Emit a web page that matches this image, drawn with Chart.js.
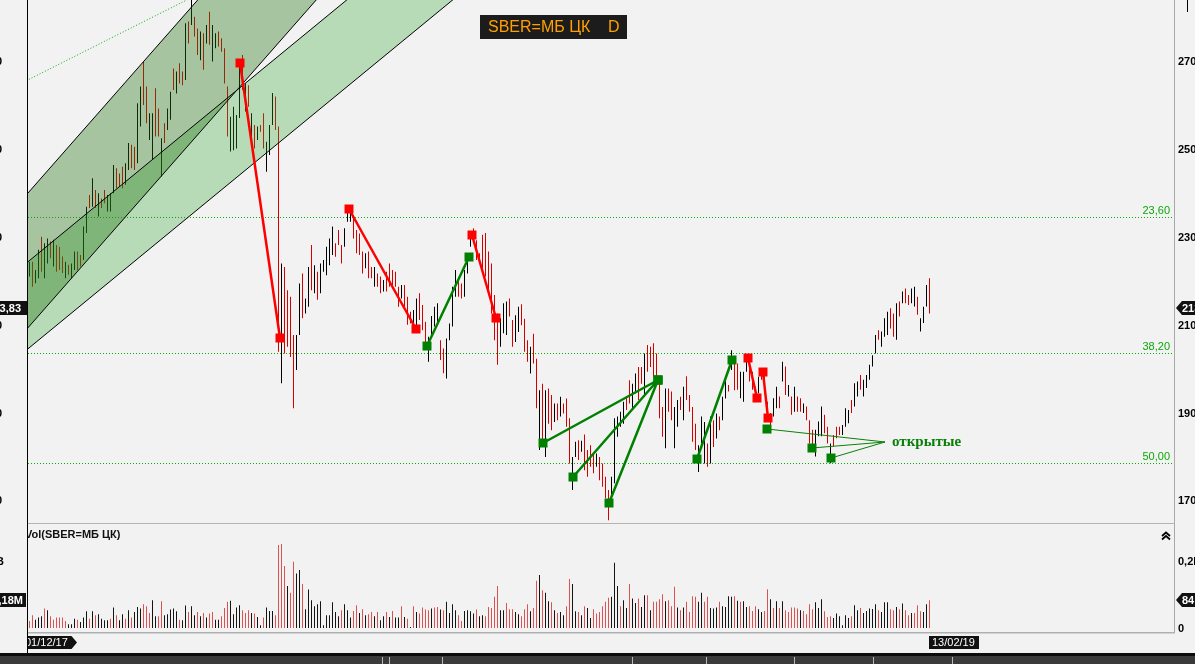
<!DOCTYPE html>
<html><head><meta charset="utf-8">
<script src="https://cdn.jsdelivr.net/npm/chart.js@4.4.1/dist/chart.umd.min.js"></script>
<style>
html,body{margin:0;padding:0;background:#f2f2f2;overflow:hidden;}
#wrap{position:relative;width:1195px;height:664px;background:#f2f2f2;}
#cp{position:absolute;left:0;top:0;width:1195px;height:524px;}
#cv{position:absolute;left:0;top:524px;width:1195px;height:140px;}
</style></head><body>
<div id="wrap"><canvas id="cp" width="1195" height="524"></canvas><canvas id="cv" width="1195" height="140"></canvas></div>
<script>
// ---------- DATA ----------
const high = [
224.5,224.5,222.6,227.2,230.2,228.7,229.8,229.1,229.5,228.3,
227.9,225.7,224.5,223.8,224.1,226.8,226.8,226.0,232.5,237.0,
239.7,243.5,240.8,240.1,238.9,240.8,239.7,240.1,246.5,245.8,
244.6,246.1,246.9,251.5,251.1,250.7,260.6,264.4,270.1,264.4,
258.3,258.3,264.0,259.4,252.6,256.0,259.4,263.2,268.5,267.8,
269.7,267.8,278.8,279.2,286.0,280.3,277.6,276.9,276.5,278.4,
281.4,278.4,276.5,276.9,275.4,273.1,264.4,257.5,259.8,257.9,
269.3,271.6,265.1,264.7,258.3,255.6,255.3,255.6,258.3,251.8,
255.6,262.9,262.1,255.3,
224.1,223.3,218.0,216.5,207.8,207.8,
219.5,221.8,216.1,223.3,228.3,223.7,222.2,224.1,224.9,227.9,
229.8,232.5,228.7,231.7,228.3,232.1,237.0,237.4,235.1,231.7,
230.9,226.8,226.4,226.8,223.3,223.3,221.8,221.1,220.3,222.2,
224.1,222.6,222.2,218.8,219.2,219.2,216.5,213.1,213.5,216.1,
217.3,214.6,210.8,207.4,212.1,214.2,215.0,206.6,204.7,207.0,
210.4,218.8,222.6,220.3,219.5,222.6,226.4,231.3,232.1,229.4,
226.4,230.6,231.0,226.8,224.1,216.9,212.7,211.6,215.0,215.4,
216.1,211.2,212.3,214.2,214.8,211.5,206.6,205.1,208.1,202.4,
195.2,196.7,195.2,195.6,194.1,192.2,192.2,193.7,192.2,193.3,
188.8,180.0,183.5,183.8,183.7,185.1,181.6,182.7,180.8,180.8,
180.0,178.5,175.5,172.5,175.5,188.8,189.2,190.3,192.6,193.7,
197.5,196.7,199.0,200.5,200.5,203.6,205.5,205.1,205.9,203.6,
196.7,191.4,195.6,195.6,194.9,191.4,193.0,193.7,196.0,198.4,
194.1,191.4,187.6,182.7,189.2,188.0,183.1,189.2,188.4,189.9,
189.2,193.7,197.5,196.4,204.3,201.7,201.3,199.4,199.4,202.5,
202.1,199.4,196.0,198.3,200.2,198.7,192.6,190.0,193.4,196.0,
193.8,201.7,200.6,196.4,193.8,196.0,193.8,193.4,192.2,191.5,
188.4,186.2,186.2,188.1,191.5,189.6,186.9,183.1,185.0,186.9,
186.9,187.3,191.1,190.7,193.0,196.8,197.2,198.7,197.6,198.7,
201.0,203.2,207.8,208.9,208.6,211.6,213.1,213.9,212.7,215.0,
215.4,217.7,218.4,216.9,218.4,218.8,216.5,211.6,214.2,219.2,220.7];
const low = [
221.1,218.8,219.6,220.7,222.2,220.7,224.1,225.3,223.4,222.2,
222.6,221.9,220.7,221.5,220.7,222.6,222.6,223.4,224.9,231.0,
236.7,237.0,236.7,234.8,236.7,237.8,235.9,235.9,240.1,241.2,
241.6,241.2,242.0,245.4,245.8,245.4,246.9,255.3,260.2,256.0,
252.2,247.7,253.0,253.0,243.9,251.5,254.5,256.8,263.6,262.8,
265.1,264.7,265.9,274.2,278.4,275.8,271.6,270.4,268.2,274.2,
273.9,270.1,273.1,273.5,272.3,265.1,253.0,249.6,249.9,250.3,
257.2,263.6,258.7,259.8,250.7,250.3,252.2,254.1,250.3,245.0,
248.8,255.6,254.5,204.0,
196.8,203.6,205.1,202.8,191.1,199.8,
207.8,211.6,212.7,214.2,218.0,217.3,215.8,217.3,222.2,221.4,
223.7,226.0,225.6,228.3,224.1,227.9,233.6,233.6,229.8,226.4,
226.0,221.8,223.0,220.7,220.7,218.8,218.8,217.3,217.7,217.7,
218.8,219.2,218.8,214.2,216.1,214.2,210.1,210.4,209.7,209.3,
211.2,208.9,205.9,201.7,207.4,209.7,210.8,202.1,199.1,197.9,
206.6,209.7,216.5,216.5,216.1,216.5,221.8,227.9,228.7,224.9,
224.5,222.6,221.1,218.0,212.7,206.6,201.0,205.1,208.2,207.8,
212.0,205.1,206.2,208.5,210.0,204.0,201.7,199.0,201.3,191.1,
181.6,182.3,180.0,187.6,186.1,188.0,188.4,189.2,189.9,186.9,
178.5,172.5,180.0,179.3,181.2,177.0,175.5,177.8,176.3,177.8,
174.7,173.2,170.6,165.6,170.2,174.0,184.6,186.9,187.6,190.7,
192.2,191.1,194.5,193.0,196.7,193.7,199.4,200.5,198.3,197.9,
188.8,184.6,182.0,190.3,188.4,182.0,186.9,190.7,188.4,193.0,
190.3,183.5,181.6,176.6,182.3,178.5,177.8,178.5,182.3,184.2,
186.1,188.4,193.3,194.9,199.8,195.2,195.3,193.4,192.6,199.4,
197.2,195.3,192.6,194.5,197.6,195.3,188.1,185.4,189.2,191.1,
191.1,197.2,194.1,193.8,189.6,190.3,190.3,190.3,190.0,188.4,
183.1,182.4,180.1,184.7,184.7,185.4,183.1,178.6,182.4,184.3,
185.0,185.0,186.9,187.7,190.0,191.5,193.8,195.3,193.8,195.7,
197.6,200.6,203.6,206.7,205.1,207.4,207.8,209.3,207.4,206.7,
212.0,215.0,215.0,214.6,215.0,214.3,212.4,208.6,210.5,214.3,212.7];
const priceDir = "brbbrbbrbrrrbrbbrr" + "bbrbrbrrbbbrrrbbrr" + "bbrrbbrrbrbbrbrr" + "brbrrbrbrbbrrr" +
  "rbbbbrbrbrbrrbbbrr" + "brrrrbbrbbrbrbbbb" + "brrrbbbrrrrbrrbrrbrr" + "rrrbrrrbbrrrbbbbrrbb" +
  "bbrrbbbrrrrrrrrrbbbr" + "rbbrrrbrrbrbrrbrbrrr" + "bbrbrrrrbrrrrbbbbbrr" + "bbrrbrrrrrrbrrbbrbrr" +
  "rrbbbrbrbrbbrbrr" + "bbbrrrbrrrrbbrbrbrbr" + "rbrrrbbbrrbrrrbbbrbb" + "rbbbbbrbbbrrbrbrrbbrbbbr";
const volume = [
21,38,25,31,35,58,53,35,25,31,31,31,21,11,11,28,25,18,31,50,
28,50,38,41,28,23,23,28,61,38,23,41,28,53,31,48,63,58,71,65,
45,83,35,35,80,38,41,55,58,50,25,23,67,48,65,38,48,35,45,31,
43,48,25,25,35,60,78,81,41,61,68,53,45,53,45,43,33,8,31,61,
51,51,38,248,251,185,125,105,198,163,173,131,56,115,83,65,71,80,8,38,
38,77,48,35,53,71,53,31,51,68,45,56,38,41,48,35,48,23,35,48,
33,51,31,31,65,33,28,3,65,48,43,61,55,53,58,61,63,55,53,78,
45,71,53,38,21,51,53,50,43,55,35,38,35,63,60,93,125,53,53,75,
56,56,48,41,35,56,71,50,60,141,158,113,105,80,77,53,45,48,38,65,
146,131,50,48,38,65,60,30,56,43,48,65,78,90,93,195,125,65,83,60,
131,88,75,88,63,98,98,53,78,78,86,101,80,83,65,123,61,53,61,78,
48,95,93,78,105,78,93,60,58,61,78,65,63,95,93,95,81,78,80,63,
65,51,65,56,48,51,116,86,60,80,60,80,53,48,61,61,58,53,51,41,
71,56,77,60,86,50,33,35,30,43,35,8,38,30,35,68,53,60,45,51,
58,57,71,53,48,77,77,56,53,63,56,73,53,38,45,45,68,50,48,71,83];
const volDir = "rrbbbrbrrrrrrbbbrbbb" + "rbrbbbbrbrbbrbrbbbrr" + "rbbrrbbbbbrbbrbbrbrb" + "rrbbrrrbbbbrrrbrbbrb" +
  "bbrrrrbrrbbrbbbbbbbb" + "bbbbrbbbrrbrbrrbrbbr" + "brbbrbrbrbrrrrbrrbrb" + "bbbrrbbbbrbbrrrrrbbr" +
  "rrbbrrrbrrbrbbrbrbbr" + "rbbrbrbbrrrrrrbbbrbb" + "rbbrbbrbrrrrbrrrbrbr" + "rrrbbrrbbbrbbbbrbrbb" +
  "rrrbbrrbrbrbrrrrrbrr" + "rrbbbrrrbbbbbbrbbrbb" + "bbbrbbbrrbrbrrbrrrbbr";

const priceTicks = [170, 190, 210, 230, 250, 270];
const volTicksRight = [0, 200];
const volTicksLeft = [200];
const fibValues = [234.56, 203.58, 178.52];
const fibLabels = ['23,60', '38,20', '50,00'];
const chan1Top = [[-2, 238.98], [100, 318.24]];
const chan1Bottom = [[-2, 208.29], [100, 287.55]];
const chan2Top = [[-2, 223.63], [200, 337.02]];
const chan2Bottom = [[-2, 203.81], [200, 317.2]];
const trendDotted = [[-2, 265.4], [70, 290.15]];
const redSegments = [[70.17,269.75,83.5,207.11],[106.5,236.49,128.83,209.16],[147.5,230.57,155.5,211.66],[239.5,202.55,242.5,193.44],[244.5,199.36,246.17,188.88]];
const greenSegments = [[132.5,205.28,146.5,225.56],[171.17,183.19,209.5,197.54],[181.17,175.44,209.5,197.54],[193.17,169.52,209.5,197.54],[222.5,179.54,234.17,202.1]];
const openSegments = [[245.83,186.38,285.17,183.42],[260.83,182.05,285.17,183.42],[267.17,179.77,285.17,183.42]];
const openLabel = 'открытые';
const lastPrice = 213.83, lastPriceLabel = '213,83';
const lastVolume = 84.18, lastVolumeLabel = '84,18M';
const firstDate = '01/12/17', lastDate = '13/02/19';
const titleText = 'SBER=МБ ЦК', periodText = 'D', volTitle = 'Vol(SBER=МБ ЦК)';

// ---------- STYLE ----------
const X_MIN = -0.5, X_MAX = 381.8333;
const P_MIN = 164.74, P_MAX = 284.1;
const V_MIN = -14.9, V_MAX = 310.4;
const PRICE_RED = '#d40000', PRICE_BLACK = '#000000';
const VOL_RED = '#dc5252', VOL_BLACK = '#141414';
const CH1 = 'rgba(34,118,20,0.37)', CH2 = 'rgba(45,165,42,0.30)';
const FIB = '#0aa80a';
const AXIS_FONT = 'bold 11px "Liberation Sans"';
const NONE = 'rgba(0,0,0,0)';

function lineDs(pts, opt) {
  return Object.assign({type: 'line', data: pts.map(p => ({x: p[0], y: p[1]})), pointRadius: 0,
    borderWidth: 1, borderColor: '#000', fill: false, yAxisID: 'y', tension: 0}, opt);
}
function segDs(segs, opt) {
  const d = [];
  segs.forEach(s => { d.push({x: s[0], y: s[1]}, {x: s[2], y: s[3]}, {x: s[2], y: null}); });
  return Object.assign({type: 'line', data: d, pointRadius: 0, fill: false, yAxisID: 'y', spanGaps: false, tension: 0}, opt);
}
function squareDs(pts, color) {
  return {type: 'line', data: pts.map(p => ({x: p[0], y: p[1]})), showLine: false, pointStyle: 'rect',
    pointRadius: 6.36, pointBackgroundColor: color, pointBorderWidth: 0, pointBorderColor: color, yAxisID: 'y', order: 0};
}
function yAxis(pos, width, ticksArr, min, max) {
  return {type: 'linear', position: pos, min: min, max: max, offset: false,
    afterFit(s) { s.width = width; s.paddingTop = 0; s.paddingBottom = 0; },
    afterBuildTicks(s) { s.ticks = ticksArr.map(v => ({value: v})); },
    ticks: {display: false}, grid: {display: false, drawTicks: false}, border: {display: false}};
}
function drawAxisLabels(ctx, scale, fmt, x, align) {
  ctx.font = AXIS_FONT; ctx.fillStyle = '#000'; ctx.textAlign = align; ctx.textBaseline = 'middle';
  scale.ticks.forEach(t => ctx.fillText(fmt(t.value), x, scale.getPixelForValue(t.value) + 0.5));
}
function poly(ctx, pts) { ctx.beginPath(); pts.forEach((p, i) => i ? ctx.lineTo(p[0], p[1]) : ctx.moveTo(p[0], p[1])); ctx.closePath(); ctx.fill(); }
function leftTag(ctx, y0, text, textRight, boxW) {
  const y = Math.round(y0);
  ctx.fillStyle = '#111'; ctx.fillRect(0, y - 7, boxW, 14);
  ctx.fillStyle = '#fff'; ctx.font = 'bold 11px "Liberation Sans"'; ctx.textAlign = 'right'; ctx.textBaseline = 'middle';
  ctx.fillText(text, textRight, y + 0.5);
}
function rightTag(ctx, y0, text) {
  const y = Math.round(y0);
  ctx.fillStyle = '#111'; poly(ctx, [[1176, y], [1182, y - 7], [1200, y - 7], [1200, y + 7], [1182, y + 7]]);
  ctx.fillStyle = '#fff'; ctx.font = 'bold 11px "Liberation Sans"'; ctx.textAlign = 'left'; ctx.textBaseline = 'middle';
  ctx.fillText(text, 1182, y + 0.5);
}

const squaresRed = [], squaresGreen = [];
redSegments.forEach(s => squaresRed.push([s[0], s[1]], [s[2], s[3]]));
greenSegments.forEach(s => squaresGreen.push([s[0], s[1]], [s[2], s[3]]));
openSegments.forEach(s => squaresGreen.push([s[0], s[1]]));

const fmtPrice = v => String(v);
const fmtVol = v => v === 0 ? '0' : String(v / 1000).replace('.', ',') + 'B';

const pricePlugin = {
  id: 'priceDeco',
  afterDatasetsDraw(chart) {
    const {ctx, chartArea: a, scales: {x, y}} = chart;
    ctx.save();
    ctx.font = '11px "Liberation Sans"'; ctx.fillStyle = FIB; ctx.textAlign = 'right'; ctx.textBaseline = 'bottom';
    fibValues.forEach((v, k) => ctx.fillText(fibLabels[k], a.right - 5, y.getPixelForValue(v) - 1));
    const tip = openSegments[0];
    ctx.font = 'bold 15px "Liberation Serif"'; ctx.fillStyle = '#0a800a'; ctx.textAlign = 'left'; ctx.textBaseline = 'middle';
    ctx.fillText(openLabel, x.getPixelForValue(tip[2]) + 7, y.getPixelForValue(tip[3]));
    ctx.restore();
  },
  afterDraw(chart) {
    const {ctx, chartArea: a, scales: {y, yL}} = chart;
    ctx.save();
    drawAxisLabels(ctx, y, fmtPrice, a.right + 3, 'left');
    drawAxisLabels(ctx, yL, fmtPrice, a.left - 26, 'right');
    ctx.fillStyle = '#000'; ctx.fillRect(a.left - 1, 0, 1, chart.height);
    ctx.fillStyle = '#a8a8a8'; ctx.fillRect(a.right - 1, 0, 1, chart.height);
    ctx.fillStyle = '#b4b4b4'; ctx.fillRect(a.left, chart.height - 1, a.right - a.left, 1);
    ctx.fillStyle = '#000'; ctx.fillRect(1187, 0, 1, 12);
    // title box
    ctx.fillStyle = '#1c1c1c'; ctx.fillRect(480, 15, 147, 24);
    ctx.fillStyle = '#ffa000'; ctx.font = '16px "Liberation Sans"'; ctx.textAlign = 'left'; ctx.textBaseline = 'middle';
    ctx.fillText(titleText, 488, 27.5);
    ctx.fillText(periodText, 608, 27.5);
    const yp = y.getPixelForValue(lastPrice);
    leftTag(ctx, yp, lastPriceLabel, 21, 27);
    rightTag(ctx, yp, lastPriceLabel);
    ctx.restore();
  }
};

const volPlugin = {
  id: 'volDeco',
  afterDraw(chart) {
    const {ctx, chartArea: a, scales: {x, y, yL}} = chart;
    ctx.save();
    ctx.beginPath(); ctx.rect(a.left, 0, a.right - a.left, a.bottom); ctx.clip();
    ctx.fillStyle = '#111'; ctx.font = 'bold 11px "Liberation Sans"'; ctx.textAlign = 'left'; ctx.textBaseline = 'middle';
    ctx.fillText(volTitle, 25, 10.5);
    ctx.restore();
    ctx.save();
    drawAxisLabels(ctx, y, fmtVol, a.right + 3, 'left');
    drawAxisLabels(ctx, yL, fmtVol, a.left - 24, 'right');
    // chevrons
    ctx.strokeStyle = '#000'; ctx.lineWidth = 1.7;
    [[8.5, 12], [12, 15.5]].forEach(([t, b]) => { ctx.beginPath(); ctx.moveTo(1162, b); ctx.lineTo(1166, t); ctx.lineTo(1170, b); ctx.stroke(); });
    // frame
    ctx.fillStyle = '#000'; ctx.fillRect(a.left - 1, 0, 1, 132);
    ctx.fillStyle = '#a8a8a8'; ctx.fillRect(a.right - 1, 0, 1, a.bottom);
    ctx.fillStyle = '#b0b0b0'; ctx.fillRect(a.left, a.bottom - 1, a.right - a.left, 1.5);
    // volume tags
    const yv = y.getPixelForValue(lastVolume);
    leftTag(ctx, yv, lastVolumeLabel, 23, 26);
    rightTag(ctx, yv, lastVolumeLabel);
    // date tags
    ctx.font = '11px "Liberation Sans"'; ctx.textBaseline = 'middle'; ctx.textAlign = 'left';
    ctx.save();
    ctx.beginPath(); ctx.rect(a.left, 109, 300, 20); ctx.clip();
    const x0 = x.getPixelForValue(0);
    ctx.fillStyle = '#111'; poly(ctx, [[x0 - 12, 112], [x0 + 42, 112], [x0 + 47.5, 118.5], [x0 + 42, 125], [x0 - 12, 125]]);
    ctx.fillStyle = '#fff'; ctx.fillText(firstDate, x0 - 4.5, 119);
    ctx.restore();
    const xl = x.getPixelForValue(high.length - 1) - 0.5;
    ctx.fillStyle = '#111'; ctx.fillRect(xl, 112, 50, 13);
    ctx.fillStyle = '#fff'; ctx.fillText(lastDate, xl + 3, 119);
    // bottom status band
    ctx.fillStyle = '#3a3a3a'; ctx.fillRect(0, 129, 1195, 11);
    ctx.fillStyle = '#0c0c0c'; ctx.fillRect(0, 129, 1195, 3);
    ctx.fillStyle = '#b8b8b8';
    [382, 389, 442, 632, 706, 794, 873, 952].forEach(sx => ctx.fillRect(sx, 133, 1, 7));
    ctx.restore();
  }
};

const xCfg = {type: 'linear', min: X_MIN, max: X_MAX, display: false, offset: false, bounds: 'data',
  grid: {offset: false}, ticks: {display: false},
  afterFit(s) { s.paddingLeft = 0; s.paddingRight = 0; }};
const baseOpts = {animation: false, responsive: false, devicePixelRatio: 1, events: [],
  plugins: {legend: {display: false}, tooltip: {enabled: false}}};

new Chart(document.getElementById('cp'), {
  type: 'bar',
  data: {datasets: [
    {type: 'bar', data: high.map((h, i) => ({x: i, y: [low[i], h]})),
     backgroundColor: high.map((h, i) => priceDir[i] === 'r' ? PRICE_RED : PRICE_BLACK),
     barThickness: 1, inflateAmount: 0, borderWidth: 0, grouped: false, order: 10, yAxisID: 'y'},
    lineDs(chan2Top, {fill: '+1', backgroundColor: CH2, borderColor: NONE, order: 7}),
    lineDs(chan2Bottom, {borderColor: NONE, order: 7}),
    lineDs(chan1Top, {fill: '+1', backgroundColor: CH1, borderColor: NONE, order: 6}),
    lineDs(chan1Bottom, {borderColor: NONE, order: 6}),
    ...fibValues.map(v => lineDs([[X_MIN - 1, v], [X_MAX + 1, v]], {borderColor: FIB, borderDash: [1, 2], order: 5})),
    lineDs(chan1Top, {order: 4}), lineDs(chan1Bottom, {order: 4}),
    lineDs(chan2Top, {order: 4}), lineDs(chan2Bottom, {order: 4}),
    lineDs(trendDotted, {borderColor: FIB, borderDash: [1, 2], order: 4}),
    segDs(openSegments, {borderColor: '#0a800a', borderWidth: 1, order: 3}),
    segDs(greenSegments, {borderColor: '#008000', borderWidth: 2.5, order: 2}),
    segDs(redSegments, {borderColor: '#ff0000', borderWidth: 2.5, order: 2}),
    squareDs(squaresGreen, '#008000'),
    squareDs(squaresRed, '#ff0000')
  ]},
  options: Object.assign({}, baseOpts, {
    layout: {padding: 0, autoPadding: false},
    scales: {
      x: xCfg,
      y: yAxis('right', 20, priceTicks, P_MIN, P_MAX),
      yL: yAxis('left', 28, priceTicks, P_MIN, P_MAX)
    }
  }),
  plugins: [pricePlugin]
});

new Chart(document.getElementById('cv'), {
  type: 'bar',
  data: {datasets: [
    {type: 'bar', data: volume.map((v, i) => ({x: i, y: v})),
     backgroundColor: volume.map((v, i) => volDir[i] === 'r' ? VOL_RED : VOL_BLACK),
     barThickness: 1, inflateAmount: 0, borderWidth: 0, grouped: false, yAxisID: 'y'}
  ]},
  options: Object.assign({}, baseOpts, {
    layout: {padding: {bottom: 31}, autoPadding: false},
    scales: {
      x: xCfg,
      y: yAxis('right', 20, volTicksRight, V_MIN, V_MAX),
      yL: yAxis('left', 28, volTicksLeft, V_MIN, V_MAX)
    }
  }),
  plugins: [volPlugin]
});
</script></body></html>
